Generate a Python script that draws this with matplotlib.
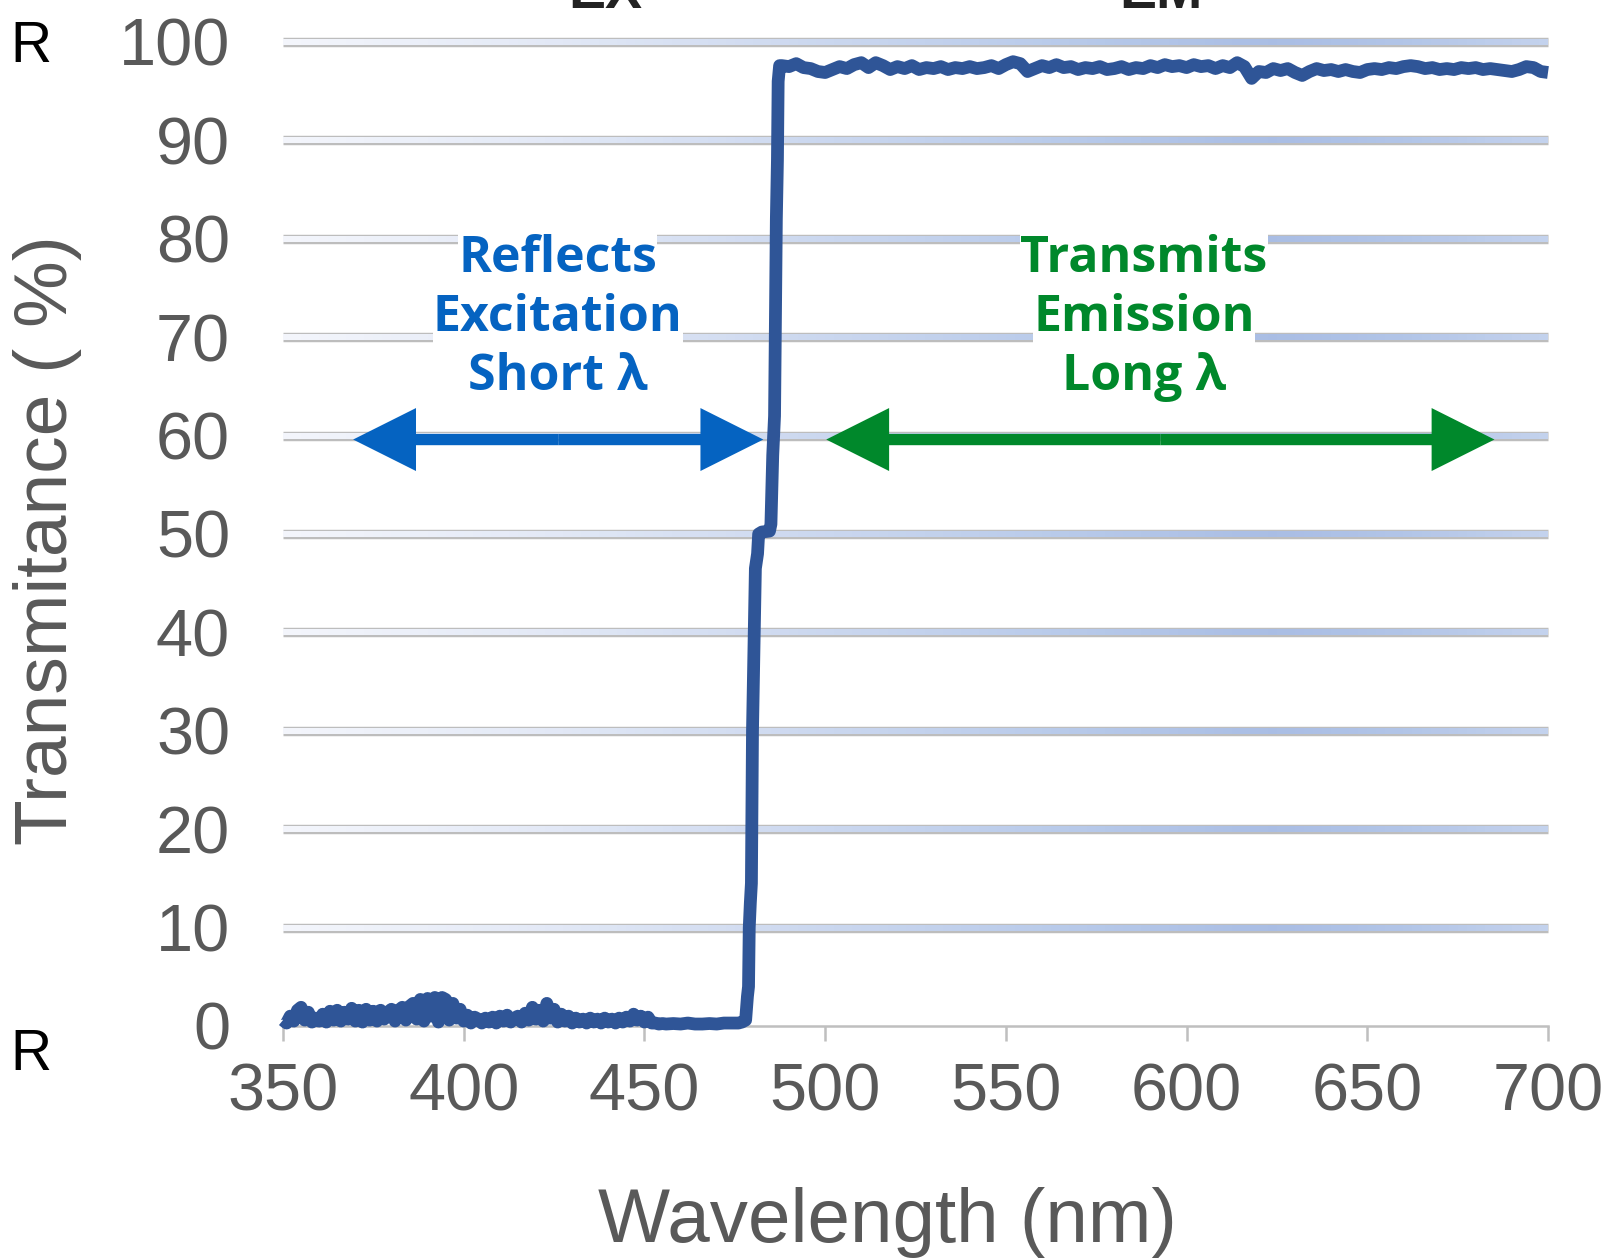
import numpy as np
import matplotlib
matplotlib.use("Agg")
import matplotlib.pyplot as plt
from matplotlib.colors import LinearSegmentedColormap
from matplotlib.collections import LineCollection
from matplotlib.patches import FancyArrow

# ---------------- data ----------------
wl_low = list(range(350, 453)) + [453, 454, 455, 456, 458, 460, 462, 464, 466, 468, 470, 472, 474, 476, 477]
tr_low = [0.6, 0.3, 1.0, 0.5, 1.6, 1.9, 0.6, 1.4, 0.4, 0.8,
          0.5, 1.2, 0.4, 1.5, 0.6, 1.6, 0.5, 1.4, 0.7, 1.8,
          0.5, 1.6, 0.4, 1.7, 0.6, 1.5, 0.5, 1.6, 0.7, 1.4,
          1.7, 0.5, 1.6, 1.9, 0.6, 2.0, 2.3, 0.7, 2.7, 0.5,
          2.8, 1.0, 2.9, 0.4, 2.9, 2.7, 0.6, 2.3, 0.8, 1.7,
          0.5, 1.1, 0.3, 0.9, 0.7, 0.3, 0.8, 0.4, 0.9, 0.3,
          1.0, 0.5, 1.1, 0.4, 0.8, 1.0, 0.4, 1.3, 0.6, 1.9,
          0.7, 1.6, 0.5, 2.3, 0.8, 1.7, 0.4, 1.2, 0.5, 1.0,
          0.3, 0.8, 0.4, 0.7, 0.3, 0.8, 0.4, 0.7, 0.3, 0.8,
          0.4, 0.7, 0.3, 0.8, 0.4, 0.9, 0.5, 1.2, 0.6, 1.0,
          0.4, 0.9, 0.3,
          0.3, 0.2, 0.25, 0.2, 0.25, 0.2, 0.3, 0.2, 0.2, 0.25, 0.2, 0.3, 0.3, 0.3, 0.4]

wl_edge = [478.0, 478.5, 478.8, 479.0, 479.3, 479.6, 479.9, 480.2, 480.7, 481.3, 481.6,
           482.5, 484.6, 485.0, 485.5, 486.0, 486.5, 486.8, 487.0, 487.4]
tr_edge = [0.6, 3.0, 4.0, 10.0, 12.5, 14.5, 30.0, 36.0, 46.5, 48.0, 50.0,
           50.2, 50.3, 51.0, 58.0, 62.0, 82.0, 88.0, 96.0, 97.6]

wl_high = list(range(488, 701, 2))
tr_high = [97.6, 97.5, 97.8, 97.4, 97.3, 97.0, 96.9, 97.2, 97.5, 97.3,
           97.7, 97.9, 97.4, 97.9, 97.6, 97.2, 97.5, 97.3, 97.6, 97.2,
           97.4, 97.3, 97.5, 97.2, 97.4, 97.3, 97.5, 97.3, 97.4, 97.6,
           97.3, 97.7, 98.0, 97.8, 97.0, 97.3, 97.6, 97.4, 97.7, 97.4,
           97.5, 97.2, 97.4, 97.3, 97.5, 97.2, 97.3, 97.5, 97.2, 97.4,
           97.3, 97.6, 97.4, 97.7, 97.5, 97.6, 97.4, 97.7, 97.5, 97.6,
           97.3, 97.6, 97.4, 97.9, 97.5, 96.3, 97.0, 96.9, 97.3, 97.1,
           97.3, 96.9, 96.6, 97.0, 97.3, 97.1, 97.2, 97.0, 97.2, 97.0,
           96.9, 97.2, 97.3, 97.2, 97.4, 97.3, 97.5, 97.6, 97.5, 97.3,
           97.4, 97.2, 97.3, 97.2, 97.4, 97.3, 97.4, 97.2, 97.3, 97.2,
           97.1, 97.0, 97.2, 97.5, 97.4, 97.0, 96.9]

wavelength = wl_low + wl_edge + wl_high
transmittance = tr_low + tr_edge + tr_high

x_ticks = [350, 400, 450, 500, 550, 600, 650, 700]
y_ticks = [0, 10, 20, 30, 40, 50, 60, 70, 80, 90, 100]

reflect_lines = ["Reflects", "Excitation", "Short \u03bb"]
transmit_lines = ["Transmits", "Emission", "Long \u03bb"]

# ---------------- style ----------------
LINE_C = "#2f5597"
BLUE = "#0563c1"
GREEN = "#00882b"
TICK_C = "#595959"
AX_C = "#bfbfbf"
FONT = ["Liberation Sans", "DejaVu Sans"]
BFONT = ["Open Sans", "DejaVu Sans"]

W, H = 1613, 1260
fig = plt.figure(figsize=(W / 100, H / 100), dpi=100)
fig.patch.set_facecolor("white")
ax = fig.add_axes([283 / W, 1 - 1026 / H, (1548 - 283) / W, (1026 - 42) / H])
ax.set_xlim(350, 700)
ax.set_ylim(0, 100)

# gradient grid bands
grad = LinearSegmentedColormap.from_list(
    "band", [(0.0, "#f3f5fb"), (0.2, "#e3e9f6"), (0.41, "#ccd8ef"),
             (0.6, "#b9cbea"), (0.78, "#a9bde4"), (0.88, "#b1c4e7"), (1.0, "#c4d2ed")])
xs = np.linspace(350, 700, 141)
for yv in y_ticks[1:]:
    ax.plot([350, 700], [yv, yv], color="#bdbdbd", lw=6.8, solid_capstyle="butt",
            zorder=1, clip_on=False)
    segs = [[(xs[i], yv), (xs[i + 1], yv)] for i in range(len(xs) - 1)]
    cols = grad((xs[:-1] - 350) / 350.0)
    lc = LineCollection(segs, colors=cols, linewidths=4.0, capstyle="butt",
                        antialiaseds=False, zorder=1.5, clip_on=False)
    ax.add_collection(lc)

for s in ["top", "right", "left"]:
    ax.spines[s].set_visible(False)
ax.spines["bottom"].set_color(AX_C)
ax.spines["bottom"].set_linewidth(1.8)

ax.set_xticks(x_ticks)
ax.set_yticks(y_ticks)
ax.set_xticklabels([str(v) for v in x_ticks], fontfamily=FONT)
ax.set_yticklabels([str(v) for v in y_ticks], fontfamily=FONT)
ax.tick_params(axis="x", length=11, width=1.8, color=AX_C, labelcolor=TICK_C,
               labelsize=48, pad=15)
ax.tick_params(axis="y", length=0, labelcolor=TICK_C, labelsize=48, pad=38)

# curve
ax.plot(wavelength, transmittance, color=LINE_C, lw=9.2, solid_joinstyle="round",
        solid_capstyle="butt", zorder=5, clip_on=False)

# arrows
def double_arrow(x0, x1, y, color):
    mid = (x0 + x1) / 2.0
    for tip in (x0, x1):
        ax.add_patch(FancyArrow(mid, y, tip - mid, 0, width=1.15, head_width=6.4,
                                head_length=17.4, length_includes_head=True,
                                color=color, lw=0, zorder=6))

double_arrow(369.4, 482.9, 59.6, BLUE)
double_arrow(500.3, 685.2, 59.6, GREEN)

# annotation texts
for txt, yv in zip(reflect_lines, [77.9, 72.0, 66.0]):
    ax.text(426.0, yv, txt, color=BLUE, fontsize=36, fontweight="bold",
            fontfamily=BFONT, ha="center", va="center", zorder=7,
            bbox=dict(facecolor="white", edgecolor="none", pad=0))
for txt, yv in zip(transmit_lines, [77.9, 72.0, 66.0]):
    ax.text(588.2, yv, txt, color=GREEN, fontsize=36, fontweight="bold",
            fontfamily=BFONT, ha="center", va="center", zorder=7,
            bbox=dict(facecolor="white", edgecolor="none", pad=0))

# axis labels
fig.text(48 / W, 1 - 540 / H, "Transmitance ( %)", rotation=90, color=TICK_C,
         fontsize=54, fontfamily=FONT, ha="center", va="center")
fig.text(887 / W, 1 - 1242 / H, "Wavelength (nm)", color=TICK_C,
         fontsize=55, fontfamily=FONT, ha="center", va="baseline")

# side marks and cut-off headers
fig.text(10 / W, 1 - 62 / H, "R", color="black", fontsize=41, fontfamily=FONT,
         ha="left", va="baseline")
fig.text(10 / W, 1 - 1070 / H, "R", color="black", fontsize=41, fontfamily=FONT,
         ha="left", va="baseline")
fig.text(605 / W, 1 - 8 / H, "EX", color="#222222", fontsize=40, fontweight="bold",
         fontfamily=FONT, ha="center", va="baseline")
fig.text(1161 / W, 1 - 8 / H, "EM", color="#222222", fontsize=40, fontweight="bold",
         fontfamily=FONT, ha="center", va="baseline")

fig.savefig("out.png", dpi=100, facecolor="white")
